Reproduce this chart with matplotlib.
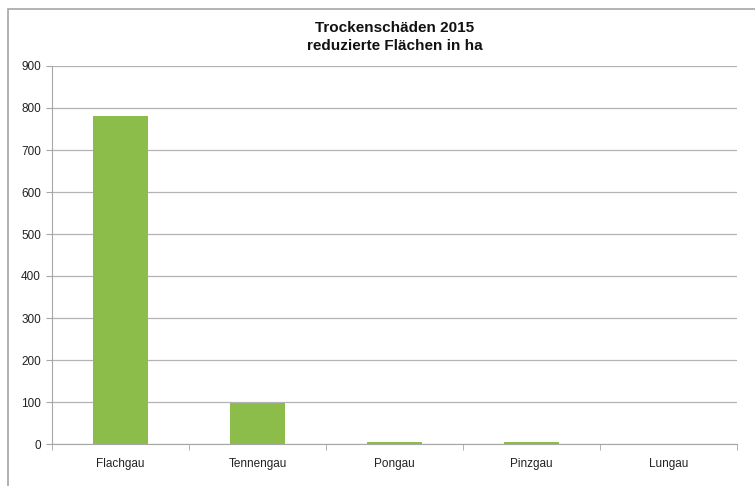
import matplotlib
matplotlib.use("Agg")
import matplotlib.pyplot as plt
from matplotlib.patches import Rectangle
import numpy as np

plt.rcParams['font.family'] = ['Liberation Sans', 'DejaVu Sans']

categories = ["Flachgau", "Tennengau", "Pongau", "Pinzgau", "Lungau"]
values = [780, 98, 5, 4, 0]
yticks = [0, 100, 200, 300, 400, 500, 600, 700, 800, 900]
title = "Trockenschäden 2015\nreduzierte Flächen in ha"

W, H = 755, 486
fig = plt.figure(figsize=(W / 100, H / 100), dpi=100)

# outer chart frame
fig.patches.append(Rectangle((8 / W, -0.1), 1.2, (H - 9) / H + 0.1,
                             transform=fig.transFigure, fill=False,
                             edgecolor="#a6a6a6", linewidth=1.2))

ax = fig.add_axes([52 / W, 42 / H, (737 - 52) / W, (444 - 66) / H])
x = np.arange(len(categories))
ax.bar(x, values, width=0.4, color="#8cbd4a", zorder=3)

ax.set_xlim(-0.5, len(categories) - 0.5)
ax.set_ylim(0, 900)
ax.set_yticks(yticks)
ax.set_yticklabels([str(v) for v in yticks], fontsize=8.5, color="#222222")
ax.set_xticks(x)
ax.set_xticklabels(categories, fontsize=8.5, color="#222222")
ax.set_xticks(np.arange(len(categories) + 1) - 0.5, minor=True)

ax.grid(axis="y", color="#b3b3b3", linewidth=0.9, zorder=0)
for s in ["top", "right"]:
    ax.spines[s].set_visible(False)
ax.spines["left"].set_color("#a6a6a6")
ax.spines["bottom"].set_color("#a6a6a6")
ax.spines["bottom"].set_zorder(2)
ax.tick_params(axis="y", length=4, color="#a6a6a6", pad=4)
ax.tick_params(axis="x", which="major", length=0, pad=10)
ax.tick_params(axis="x", which="minor", length=4, color="#a6a6a6")

fig.text((52 + 737) / 2 / W, 1 - 37 / H, title, ha="center", va="center",
         fontsize=11, fontweight="bold", color="#111111", linespacing=1.4)

fig.savefig("out.png", dpi=100)
